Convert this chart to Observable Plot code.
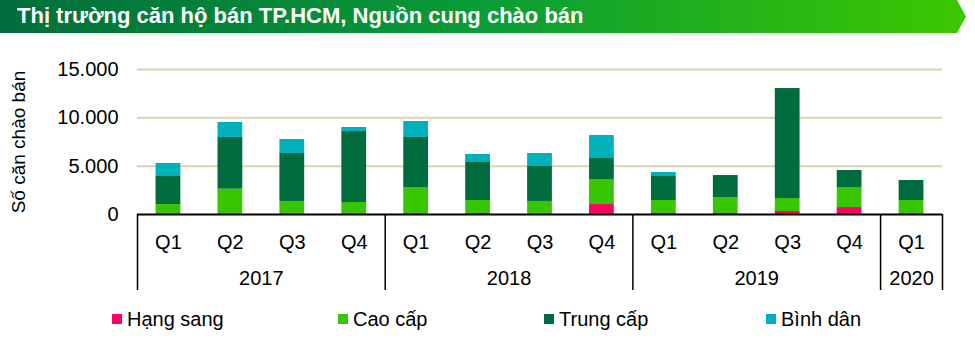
<!DOCTYPE html>
<html><head><meta charset="utf-8">
<script src="https://cdn.jsdelivr.net/npm/d3@7"></script>
<script src="https://cdn.jsdelivr.net/npm/@observablehq/plot@0.6"></script>
<style>
body{margin:0;background:#fff;font-family:"Liberation Sans",Arial,sans-serif;}
#wrap{position:relative;width:975px;height:351px;overflow:hidden}
#banner{position:absolute;left:0;top:0;width:966px;height:33px;background:linear-gradient(90deg,#006e3c 0%,#0a9c36 50%,#3cc800 100%);clip-path:polygon(0 0,957px 0,966px 16.5px,957px 33px,0 33px);}
#title{position:absolute;left:17px;top:3px;color:#fff;font-weight:bold;font-size:22px;white-space:nowrap}
#chart{position:absolute;left:0;top:34px}
#legend{position:absolute;top:305px;left:0;width:975px;height:28px}
.item{position:absolute;top:0;display:flex;align-items:center;font-size:20px;height:28px;color:#000;white-space:nowrap}
.sw{width:10px;height:10px;margin-right:5px}
</style>
</head>
<body>
<div id="wrap">
  <div id="banner"></div>
  <div id="title"></div>
  <div id="chart"></div>
  <div id="legend"></div>
</div>
<script>
const titleText = "Thị trường căn hộ bán TP.HCM, Nguồn cung chào bán";
const yLabel = "Số căn chào bán";
const quarters = ["Q1","Q2","Q3","Q4","Q1","Q2","Q3","Q4","Q1","Q2","Q3","Q4","Q1"];
const years = [2017,2017,2017,2017,2018,2018,2018,2018,2019,2019,2019,2019,2020];
const seriesNames = ["Hạng sang","Cao cấp","Trung cấp","Bình dân"];
const seriesColors = ["#ff0066","#38c600","#006b3c","#00b0ba"];
const hangSang = [0,0,0,0,0,100,0,1030,100,100,310,720,0];
const caoCap   = [1030,2620,1350,1240,2790,1350,1350,2590,1350,1660,1340,2070,1450];
const trungCap = [2900,5350,4960,7340,5180,3930,3620,2170,2480,2270,11380,1760,2070];
const binhDan  = [1350,1550,1450,420,1650,830,1340,2380,420,0,0,0,0];
const yTicks = [0,5000,10000,15000];
const legendLefts = [112,338,544,766];

document.getElementById("title").textContent = titleText;

const seriesValues = [hangSang, caoCap, trungCap, binhDan];
const stacked = [];
quarters.forEach((q, i) => {
  let acc = 0;
  seriesNames.forEach((s, k) => {
    const v = seriesValues[k][i];
    stacked.push({i, series: s, y1: acc, y2: acc + v});
    acc += v;
  });
});
const qData = quarters.map((q, i) => ({i, q}));
const yearGroups = [];
years.forEach((y, i) => {
  const last = yearGroups[yearGroups.length - 1];
  if (last && last.year === y) last.end = i; else yearGroups.push({year: y, start: i, end: i});
});
yearGroups.forEach(g => g.mid = (g.start + g.end) / 2);
const separators = yearGroups.map(g => g.start - 0.5).concat([yearGroups[yearGroups.length-1].end + 0.5]);
const fmt = v => d3.format(",")(v).replace(/,/g, ".");

const hasAxisMark = typeof Plot.axisY === "function";
const yAxisMark = hasAxisMark
  ? Plot.axisY(yTicks, {tickFormat: fmt, tickSize: 0, tickPadding: 19, fontSize: 20, label: null, fill: "#000"})
  : null;

const chart = Plot.plot({
  width: 975, height: 268,
  marginTop: 35, marginBottom: 88, marginLeft: 137, marginRight: 33,
  style: {fontSize: "20px", fontFamily: "Liberation Sans, Arial, sans-serif", color: "#000", background: "transparent", overflow: "visible"},
  x: {domain: [-0.5, quarters.length - 0.5], axis: null},
  y: {domain: [0, 15000], ticks: yTicks, tickFormat: fmt, tickSize: 0, tickPadding: 19, label: null, axis: hasAxisMark ? null : "left"},
  color: {domain: seriesNames, range: seriesColors},
  marks: [
    Plot.ruleY(yTicks.filter(v => v > 0), {stroke: "#d8d4b2", strokeWidth: 2}),
    Plot.rect(stacked, {x1: d => d.i - 0.2, x2: d => d.i + 0.2, y1: "y1", y2: "y2", fill: "series"}),
    Plot.ruleY([0], {stroke: "#000", strokeWidth: 2}),
    Plot.ruleX(separators, {y1: 0, y2: 0, insetBottom: -76, stroke: "#000", strokeWidth: 1.5}),
    Plot.text(qData, {x: "i", y: 0, text: "q", dy: 28, fill: "#000", fontSize: 20}),
    Plot.text(yearGroups, {x: "mid", y: 0, text: d => String(d.year), dy: 64, fill: "#000", fontSize: 20}),
    Plot.text([yLabel], {frameAnchor: "left", textAnchor: "middle", rotate: -90, dx: -119, fontSize: 19, fill: "#000"}),
    yAxisMark
  ]
});
document.getElementById("chart").appendChild(chart);

const legend = document.getElementById("legend");
seriesNames.forEach((s, k) => {
  const item = document.createElement("div");
  item.className = "item";
  item.style.left = legendLefts[k] + "px";
  const sw = document.createElement("span");
  sw.className = "sw";
  sw.style.background = seriesColors[k];
  const t = document.createElement("span");
  t.textContent = s;
  item.appendChild(sw); item.appendChild(t);
  legend.appendChild(item);
});
</script>
</body></html>
